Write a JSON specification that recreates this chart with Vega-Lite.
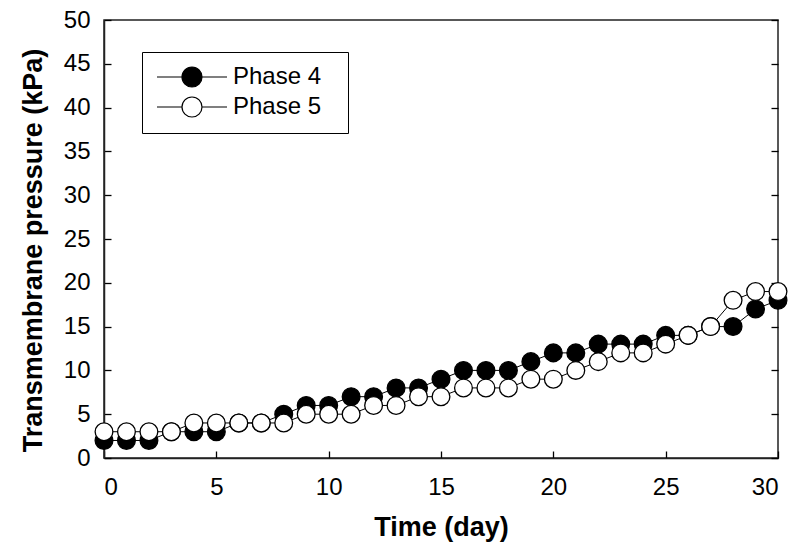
{
  "$schema": "https://vega.github.io/schema/vega-lite/v6.json",
  "width": 674,
  "height": 438,
  "autosize": "none",
  "padding": {"left": 104, "top": 20, "right": 14, "bottom": 88},
  "config": {
    "font": "Liberation Sans",
    "view": {"stroke": "#222", "strokeWidth": 1.5},
    "axis": {
      "grid": false,
      "domainColor": "#222",
      "domainWidth": 1.5,
      "tickColor": "black",
      "tickWidth": 1.3,
      "tickSize": -7,
      "labelFont": "Liberation Sans",
      "labelFontSize": 24,
      "labelColor": "black",
      "titleFont": "Liberation Sans",
      "titleFontSize": 27,
      "titleFontWeight": "bold",
      "titleColor": "black"
    }
  },
  "data": {
    "values": [
      {"day": 0, "series": "Phase 4", "tmp": 2},
      {"day": 1, "series": "Phase 4", "tmp": 2},
      {"day": 2, "series": "Phase 4", "tmp": 2},
      {"day": 3, "series": "Phase 4", "tmp": 3},
      {"day": 4, "series": "Phase 4", "tmp": 3},
      {"day": 5, "series": "Phase 4", "tmp": 3},
      {"day": 6, "series": "Phase 4", "tmp": 4},
      {"day": 7, "series": "Phase 4", "tmp": 4},
      {"day": 8, "series": "Phase 4", "tmp": 5},
      {"day": 9, "series": "Phase 4", "tmp": 6},
      {"day": 10, "series": "Phase 4", "tmp": 6},
      {"day": 11, "series": "Phase 4", "tmp": 7},
      {"day": 12, "series": "Phase 4", "tmp": 7},
      {"day": 13, "series": "Phase 4", "tmp": 8},
      {"day": 14, "series": "Phase 4", "tmp": 8},
      {"day": 15, "series": "Phase 4", "tmp": 9},
      {"day": 16, "series": "Phase 4", "tmp": 10},
      {"day": 17, "series": "Phase 4", "tmp": 10},
      {"day": 18, "series": "Phase 4", "tmp": 10},
      {"day": 19, "series": "Phase 4", "tmp": 11},
      {"day": 20, "series": "Phase 4", "tmp": 12},
      {"day": 21, "series": "Phase 4", "tmp": 12},
      {"day": 22, "series": "Phase 4", "tmp": 13},
      {"day": 23, "series": "Phase 4", "tmp": 13},
      {"day": 24, "series": "Phase 4", "tmp": 13},
      {"day": 25, "series": "Phase 4", "tmp": 14},
      {"day": 26, "series": "Phase 4", "tmp": 14},
      {"day": 27, "series": "Phase 4", "tmp": 15},
      {"day": 28, "series": "Phase 4", "tmp": 15},
      {"day": 29, "series": "Phase 4", "tmp": 17},
      {"day": 30, "series": "Phase 4", "tmp": 18},
      {"day": 0, "series": "Phase 5", "tmp": 3},
      {"day": 1, "series": "Phase 5", "tmp": 3},
      {"day": 2, "series": "Phase 5", "tmp": 3},
      {"day": 3, "series": "Phase 5", "tmp": 3},
      {"day": 4, "series": "Phase 5", "tmp": 4},
      {"day": 5, "series": "Phase 5", "tmp": 4},
      {"day": 6, "series": "Phase 5", "tmp": 4},
      {"day": 7, "series": "Phase 5", "tmp": 4},
      {"day": 8, "series": "Phase 5", "tmp": 4},
      {"day": 9, "series": "Phase 5", "tmp": 5},
      {"day": 10, "series": "Phase 5", "tmp": 5},
      {"day": 11, "series": "Phase 5", "tmp": 5},
      {"day": 12, "series": "Phase 5", "tmp": 6},
      {"day": 13, "series": "Phase 5", "tmp": 6},
      {"day": 14, "series": "Phase 5", "tmp": 7},
      {"day": 15, "series": "Phase 5", "tmp": 7},
      {"day": 16, "series": "Phase 5", "tmp": 8},
      {"day": 17, "series": "Phase 5", "tmp": 8},
      {"day": 18, "series": "Phase 5", "tmp": 8},
      {"day": 19, "series": "Phase 5", "tmp": 9},
      {"day": 20, "series": "Phase 5", "tmp": 9},
      {"day": 21, "series": "Phase 5", "tmp": 10},
      {"day": 22, "series": "Phase 5", "tmp": 11},
      {"day": 23, "series": "Phase 5", "tmp": 12},
      {"day": 24, "series": "Phase 5", "tmp": 12},
      {"day": 25, "series": "Phase 5", "tmp": 13},
      {"day": 26, "series": "Phase 5", "tmp": 14},
      {"day": 27, "series": "Phase 5", "tmp": 15},
      {"day": 28, "series": "Phase 5", "tmp": 18},
      {"day": 29, "series": "Phase 5", "tmp": 19},
      {"day": 30, "series": "Phase 5", "tmp": 19}
    ]
  },
  "layer": [
    {
      "mark": {"type": "line", "color": "black", "strokeWidth": 1},
      "encoding": {
        "x": {"field": "day", "type": "quantitative", "scale": {"domain": [0, 30], "nice": false},
              "axis": {"title": "Time (day)", "values": [0, 5, 10, 15, 20, 25, 30], "labelPadding": 24, "titlePadding": 15}},
        "y": {"field": "tmp", "type": "quantitative", "scale": {"domain": [0, 50], "nice": false},
              "axis": {"title": "Transmembrane pressure (kPa)", "values": [0, 5, 10, 15, 20, 25, 30, 35, 40, 45, 50], "labelPadding": 21, "titlePadding": 16, "titleY": 230}},
        "detail": {"field": "series"}
      }
    },
    {
      "mark": {"type": "point", "filled": true, "size": 315, "stroke": "black", "strokeWidth": 1.3, "opacity": 1},
      "encoding": {
        "x": {"field": "day", "type": "quantitative"},
        "y": {"field": "tmp", "type": "quantitative", "axis": null},
        "fill": {
          "field": "series",
          "type": "nominal",
          "scale": {"domain": ["Phase 4", "Phase 5"], "range": ["black", "white"]},
          "legend": {
            "title": null,
            "orient": "none",
            "legendX": 38,
            "legendY": 32,
            "strokeColor": "black",
            "padding": 13,
            "symbolType": "M -1 0 L 1.5 0 M 3.5 0 L 6 0 M 1.5 0 A 1 1 0 1 1 3.5 0 A 1 1 0 1 1 1.5 0",
            "symbolSize": 400,
            "symbolStrokeColor": "black",
            "symbolStrokeWidth": 1.2,
            "labelFontSize": 24,
            "labelFont": "Liberation Sans",
            "labelColor": "black",
            "labelOffset": 54,
            "rowPadding": 4,
            "labelExpr": "datum.label + '\u00a0\u00a0\u200b'"
          }
        }
      }
    },
    {
      "mark": {"type": "point", "opacity": 0},
      "encoding": {
        "y": {"field": "tmp", "type": "quantitative",
              "axis": {"orient": "right", "title": null, "labels": false, "values": [0, 5, 10, 15, 20, 25, 30, 35, 40, 45, 50], "domain": false}}
      }
    }
  ],
  "resolve": {"axis": {"y": "independent"}}
}
